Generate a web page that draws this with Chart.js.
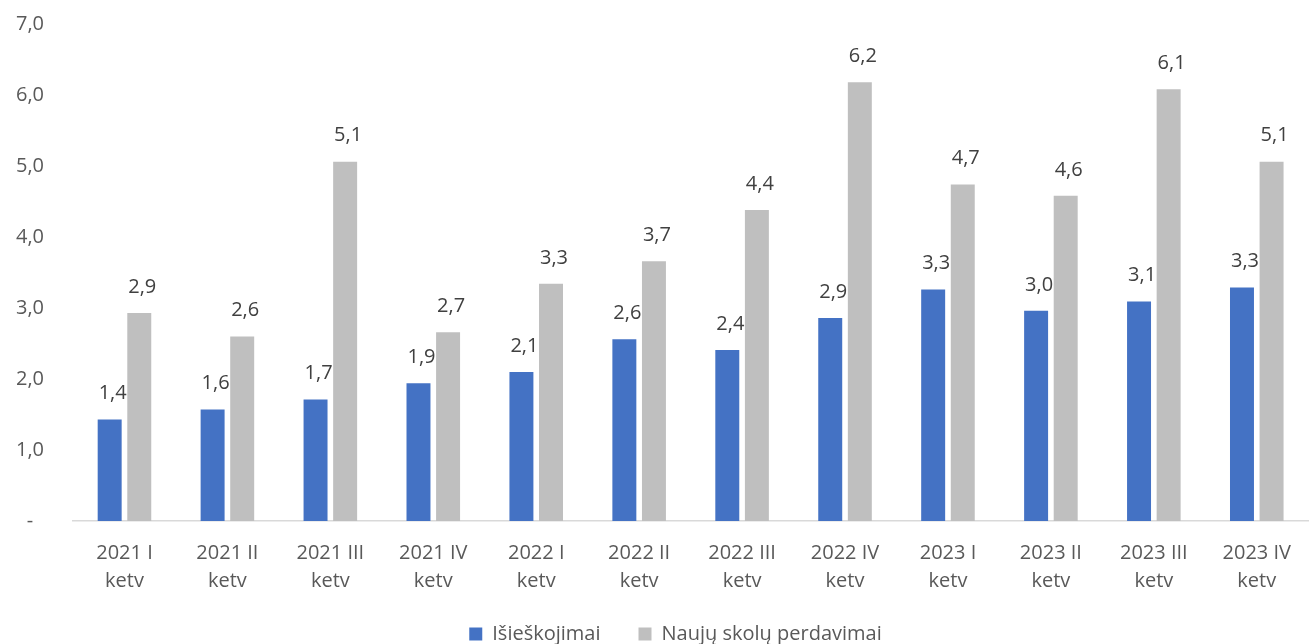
<!DOCTYPE html>
<html><head><meta charset="utf-8">
<script src="https://cdn.jsdelivr.net/npm/chart.js@4"></script>
<style>html,body{margin:0;padding:0;background:#fff}#wrap{width:1309px;height:644px}</style>
</head><body><div id="wrap"><canvas id="c"></canvas></div>
<script>
const categories = [["2021 I","ketv"],["2021 II","ketv"],["2021 III","ketv"],["2021 IV","ketv"],["2022 I","ketv"],["2022 II","ketv"],["2022 III","ketv"],["2022 IV","ketv"],["2023 I","ketv"],["2023 II","ketv"],["2023 III","ketv"],["2023 IV","ketv"]];
const isieskojimai = [1.43,1.57,1.71,1.94,2.10,2.56,2.41,2.86,3.26,2.96,3.09,3.29];
const perdavimai = [2.93,2.60,5.06,2.66,3.34,3.66,4.38,6.18,4.74,4.58,6.08,5.06];
const yTicks = [0,1,2,3,4,5,6,7];
const FONT = "'Open Sans', 'Noto Sans', sans-serif";
const FS = 20;
const fmt = v => v === 0 ? "-" : v.toFixed(1).replace(".", ",");

const labelPlugin = {
  id: 'vlabels',
  afterDatasetsDraw(chart) {
    const ctx = chart.ctx;
    ctx.save();
    ctx.font = FS + "px " + FONT;
    ctx.fillStyle = "#404040";
    ctx.textAlign = "center";
    ctx.textBaseline = "middle";
    chart.data.datasets.forEach((ds, i) => {
      chart.getDatasetMeta(i).data.forEach((bar, j) => {
        ctx.fillText(fmt(ds.data[j]), bar.x + 3, bar.y - 26);
      });
    });
    ctx.restore();
  }
};

const legendFit = {
  id: 'legendFit',
  afterInit(chart) {
    const lg = chart.legend;
    if (!lg) return;
    const origFit = lg.fit.bind(lg);
    lg.fit = function () { origFit(); this.height = 31; };
    const origDraw = lg.draw.bind(lg);
    lg.draw = function () {
      const t = this.top, l = this.left, r = this.right;
      this.top = t - 27; this.left = l + 21; this.right = r + 21;
      origDraw();
      this.top = t; this.left = l; this.right = r;
    };
  }
};

new Chart(document.getElementById('c'), {
  type: 'bar',
  data: {
    labels: categories,
    datasets: [
      {label: 'Išieškojimai', data: isieskojimai, backgroundColor: '#4472c4', categoryPercentage: 0.575, barPercentage: 0.81},
      {label: 'Naujų skolų perdavimai', data: perdavimai, backgroundColor: '#bfbfbf', categoryPercentage: 0.575, barPercentage: 0.81}
    ]
  },
  options: {
    responsive: true, maintainAspectRatio: false, animation: false,
    layout: {padding: {top: 14, right: 0, left: 0, bottom: 0}},
    plugins: {
      legend: {position: 'bottom', labels: {font: {size: FS, family: FONT}, color: '#595959', boxWidth: 13, boxHeight: 13, padding: 38}},
      tooltip: {enabled: false}
    },
    scales: {
      x: {
        grid: {display: false, drawTicks: false},
        border: {display: true, color: '#d9d9d9', width: 1.5},
        ticks: {font: {size: FS, family: FONT, lineHeight: 1.4}, color: '#595959', padding: 18, maxRotation: 0, autoSkip: false}
      },
      y: {
        min: 0, max: 7,
        afterBuildTicks: s => { s.ticks = yTicks.map(v => ({value: v})); },
        afterFit: s => { s.width = 73; s.paddingTop = Math.max(0, s.paddingTop - 17); s.paddingBottom = Math.max(0, s.paddingBottom - 17); },
        grid: {display: false, drawTicks: false},
        border: {display: false},
        ticks: {font: {size: FS, family: FONT}, color: '#595959', crossAlign: 'center', padding: 29, callback: v => fmt(v)}
      }
    }
  },
  plugins: [labelPlugin, legendFit]
});
</script></body></html>
